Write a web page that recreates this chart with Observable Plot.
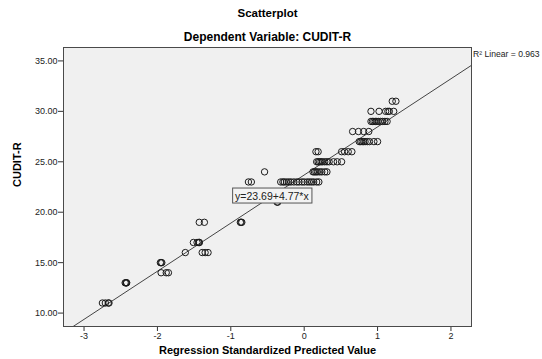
<!DOCTYPE html>
<html>
<head>
<meta charset="utf-8">
<script src="https://cdn.jsdelivr.net/npm/d3@7"></script>
<script src="https://cdn.jsdelivr.net/npm/@observablehq/plot@0.6"></script>
<style>
  html, body { margin: 0; padding: 0; background: #fff; }
  #chart svg { display: block; overflow: hidden; }
</style>
</head>
<body>
<div id="chart"></div>
<script>
// ---- data ----
const chartTitle = "Scatterplot";
const chartSubtitle = "Dependent Variable: CUDIT-R";
const xLabel = "Regression Standardized Predicted Value";
const yLabel = "CUDIT-R";

// observed CUDIT-R scores (y) and the standardized predicted values (x) at each score
const scores = [11, 13, 14, 15, 16, 17, 19, 21, 23, 24, 25, 26, 27, 28, 29, 30, 31];
const predictedByScore = [
  [-2.75, -2.71, -2.67, -2.66],
  [-2.44, -2.43, -2.42, -2.42],
  [-1.95, -1.88, -1.85],
  [-1.96, -1.95, -1.94],
  [-1.62, -1.39, -1.35, -1.31],
  [-1.51, -1.46, -1.44, -1.43, -1.43],
  [-1.43, -1.36, -0.87, -0.86, -0.85],
  [-0.37, -0.36],
  [-0.76, -0.72, -0.32, -0.29, -0.27, -0.24, -0.21, -0.18, -0.14, -0.10, -0.07, -0.03, 0.00, 0.04, 0.07, 0.10, 0.13, 0.17, 0.20],
  [-0.54, 0.12, 0.14, 0.16, 0.18, 0.21, 0.24, 0.28, 0.31],
  [0.17, 0.19, 0.21, 0.23, 0.25, 0.28, 0.31, 0.34, 0.40, 0.45, 0.51],
  [0.16, 0.19, 0.51, 0.55, 0.60, 0.65],
  [0.75, 0.77, 0.79, 0.81, 0.83, 0.86, 0.89, 0.95, 1.00],
  [0.66, 0.74, 0.81, 0.88],
  [0.91, 0.93, 0.95, 0.97, 0.99, 1.01, 1.04, 1.07, 1.10, 1.13],
  [0.91, 1.02, 1.11, 1.14, 1.16, 1.22],
  [1.20, 1.25]
];

const xTicks = [-3, -2, -1, 0, 1, 2];
const yTicks = [10, 15, 20, 25, 30, 35];
const xDomain = [-3.28, 2.28];
const yDomain = [8.67, 36.33];

const intercept = 23.69;
const slope = 4.77;
const rSquared = 0.963;
const equationAtX = -0.44;

// ---- derived tables ----
const points = scores.flatMap((s, i) => predictedByScore[i].map(p => ({x: p, y: s})));
const fitLine = xDomain.map(x => ({x, y: intercept + slope * x}));
const equationText = `y=${intercept.toFixed(2)}+${slope.toFixed(2)}*x`;
const equationLabel = [{x: equationAtX, y: intercept + slope * equationAtX, text: equationText}];

const font = "'Liberation Sans', Arial, sans-serif";

const plot = Plot.plot({
  width: 542,
  height: 359,
  marginTop: 47,
  marginLeft: 63,
  marginRight: 71,
  marginBottom: 33,
  style: {fontFamily: font, background: "#fff", color: "#222"},
  x: {domain: xDomain},
  y: {domain: yDomain},
  marks: [
    Plot.frame({fill: "#f0f0f0", stroke: null}),
    Plot.axisX({ticks: xTicks, tickSize: 5, tickPadding: 1, tickFormat: d => String(d),
      label: null, fontSize: 9, stroke: "#333"}),
    Plot.axisY({ticks: yTicks, tickSize: 5, tickPadding: 1, tickFormat: d3.format(".2f"),
      label: null, fontSize: 9, stroke: "#333"}),
    Plot.line(fitLine, {x: "x", y: "y", stroke: "#444", strokeWidth: 1, clip: true}),
    Plot.dot(points, {x: "x", y: "y", r: 3.2, stroke: "#1a1a1a", strokeWidth: 1, fill: "none"}),
    Plot.text(equationLabel, {x: "x", y: "y", text: "text", fontSize: 10.5, fill: "#222"}),
    Plot.frame({stroke: "#4a4a4a", strokeWidth: 1}),
    Plot.text([`R² Linear = ${rSquared.toFixed(3)}`], {text: d => d, frameAnchor: "top-right",
      textAnchor: "start", lineAnchor: "middle", dx: 1.5, dy: 7, fontSize: 8.6, fill: "#222"}),
    Plot.text([chartTitle], {text: d => d, frameAnchor: "top", lineAnchor: "middle", dy: -34,
      fontSize: 11.5, fontWeight: "bold", fill: "#000"}),
    Plot.text([chartSubtitle], {text: d => d, frameAnchor: "top", lineAnchor: "middle", dy: -10,
      fontSize: 12, fontWeight: "bold", fill: "#000"}),
    Plot.text([xLabel], {text: d => d, frameAnchor: "bottom", lineAnchor: "middle", dy: 24,
      fontSize: 11, fontWeight: "bold", fill: "#000"}),
    Plot.text([yLabel], {text: d => d, frameAnchor: "left", lineAnchor: "middle", rotate: -90,
      dx: -46, fontSize: 11, fontWeight: "bold", fill: "#000"})
  ]
});

document.getElementById("chart").appendChild(plot);

// draw the opaque box behind the equation label
const eqText = Array.from(plot.querySelectorAll("text")).find(t => t.textContent === equationText);
if (eqText) {
  const bb = eqText.getBBox();
  const rect = document.createElementNS("http://www.w3.org/2000/svg", "rect");
  rect.setAttribute("x", bb.x - 2.5);
  rect.setAttribute("y", bb.y - 1.5);
  rect.setAttribute("width", bb.width + 5);
  rect.setAttribute("height", bb.height + 3);
  rect.setAttribute("fill", "#f3f3f3");
  rect.setAttribute("stroke", "#555");
  rect.setAttribute("stroke-width", "1");
  const transform = eqText.getAttribute("transform");
  if (transform) rect.setAttribute("transform", transform);
  eqText.parentNode.insertBefore(rect, eqText);
}
</script>
</body>
</html>
